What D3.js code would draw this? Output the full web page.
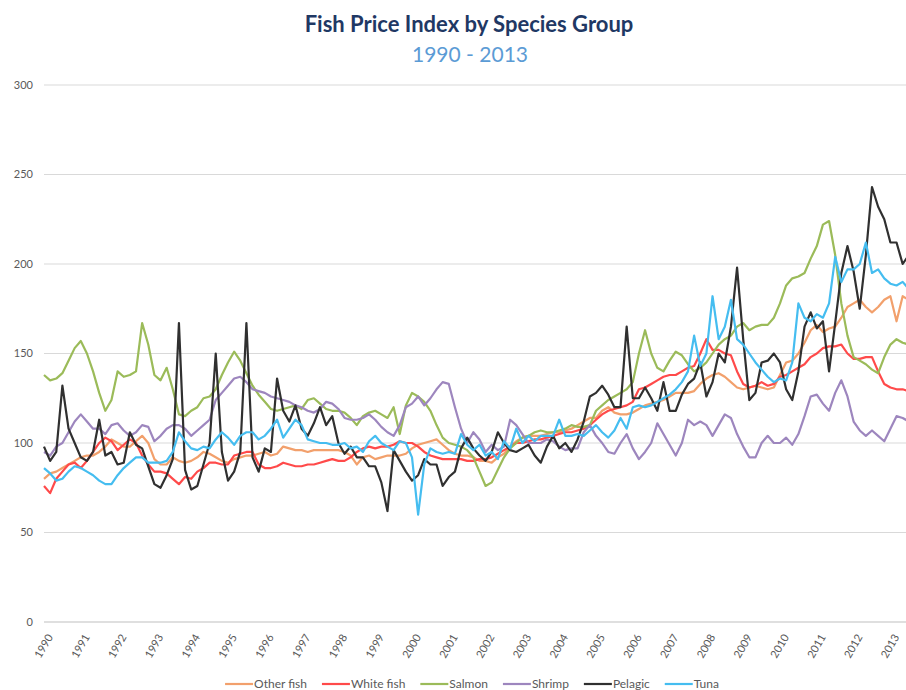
<!DOCTYPE html>
<html>
<head>
<meta charset="utf-8">
<script src="https://cdn.jsdelivr.net/npm/d3@7"></script>
<style>
  html, body { margin: 0; padding: 0; background: #fff; }
  svg { display: block; font-family: Lato, "Open Sans", sans-serif; }
</style>
</head>
<body>
<svg id="svg" width="906" height="690"></svg>
<script>
// bi-monthly readings, one row per year, Jan 1990 onward
const otherFish = [
  80, 83, 84, 86, 88, 90,
  92, 93, 93, 95, 98, 102,
  100, 98, 98, 101, 104, 100,
  91, 88, 88, 92, 90, 89,
  90, 92, 95, 94, 92, 90,
  89, 91, 92, 93, 93, 94,
  95, 93, 94, 98, 97, 96,
  96, 95, 96, 96, 96, 96,
  96, 95, 93, 88, 92, 93,
  91, 92, 93, 93, 93, 94,
  97, 99, 100, 101, 102, 99,
  96, 94, 93, 93, 92, 90,
  90, 89, 92, 94, 98, 101,
  103, 104, 104, 104, 105, 106,
  106, 107, 108, 110, 112, 114,
  114, 118, 120, 117, 116, 116,
  117, 119, 121, 122, 123, 124,
  126, 128, 128, 128, 129, 133,
  136, 138, 139, 137, 134, 131,
  130, 131, 132, 131, 130, 131,
  138, 145, 146, 150, 156, 163,
  166, 162, 164, 165, 170, 176,
  178, 180, 176, 173, 176, 180,
  182, 168, 182, 180
]
const whiteFish = [
  76, 72, 80, 84, 88, 89,
  86, 90, 95, 100, 103, 101,
  96, 99, 102, 100, 93, 88,
  84, 84, 83, 80, 77, 81,
  80, 84, 86, 89, 89, 88,
  88, 93, 94, 95, 95, 88,
  86, 86, 87, 89, 88, 87,
  87, 88, 88, 89, 90, 91,
  90, 90, 92, 95, 97, 98,
  97, 98, 98, 99, 101, 100,
  100, 98, 95, 93, 92, 91,
  91, 91, 91, 90, 90, 91,
  91, 92, 94, 96, 98, 100,
  100, 101, 102, 102, 103, 104,
  105, 106, 106, 107, 108, 110,
  113, 116, 118, 119, 120, 121,
  123, 130, 131, 133, 135, 137,
  138, 138, 140, 142, 143, 150,
  158, 152, 152, 150, 149, 140,
  133, 131, 132, 134, 132, 133,
  137, 138, 140, 142, 144, 148,
  150, 153, 154, 154, 155, 150,
  147, 147, 148, 148, 140, 133,
  131, 130, 130, 129
]
const salmon = [
  138, 135, 136, 139, 146, 153,
  157, 150, 140, 128, 118, 124,
  140, 137, 138, 140, 167, 155,
  138, 135, 142, 130, 116, 115,
  118, 120, 125, 126, 130, 138,
  145, 151, 146, 139, 132, 127,
  123, 119, 118, 119, 120, 121,
  119, 124, 125, 122, 119, 118,
  118, 117, 114, 110, 115, 117,
  118, 116, 114, 120, 105, 121,
  128, 126, 123, 118, 110, 103,
  100, 99, 98, 96, 92, 84,
  76, 78, 85, 92, 97, 100,
  103, 104, 106, 107, 106, 106,
  107, 108, 110, 109, 109, 110,
  118, 121, 124, 126, 128, 130,
  134, 150, 163, 150, 142, 140,
  146, 151, 149, 144, 140, 142,
  145, 150, 155, 158, 160, 165,
  167, 163, 165, 166, 166, 170,
  178, 188, 192, 193, 195, 203,
  210, 222, 224, 205, 178, 160,
  148, 146, 144, 141, 139, 148,
  155, 158, 156, 155
]
const shrimp = [
  95, 93, 98, 100, 106, 112,
  116, 112, 108, 108, 105, 110,
  111, 107, 104, 106, 110, 109,
  101, 104, 108, 110, 110, 108,
  104, 107, 110, 113, 124, 128,
  132, 136, 137, 134, 130, 129,
  128, 126, 125, 124, 123, 121,
  120, 118, 117, 119, 123, 122,
  119, 114, 113, 113, 114, 116,
  113, 109, 106, 104, 110, 120,
  122, 126, 121, 125, 130, 134,
  133, 120, 108, 100, 106, 102,
  95, 99, 96, 98, 113, 110,
  105, 100, 100, 100, 102, 101,
  98, 96, 97, 97, 106, 110,
  104, 100, 95, 94, 100, 105,
  97, 91, 95, 100, 111, 105,
  99, 93, 100, 113, 110, 112,
  110, 104, 110, 116, 114, 105,
  98, 92, 92, 100, 104, 100,
  100, 103, 99, 105, 115, 126,
  127, 122, 118, 128, 135, 126,
  112, 107, 104, 107, 104, 101,
  108, 115, 114, 112
]
const pelagic = [
  98, 90, 95, 132, 108, 100,
  92, 90, 95, 113, 93, 95,
  88, 89, 106, 99, 97, 87,
  77, 75, 82, 91, 167, 85,
  74, 76, 88, 100, 150, 95,
  79, 84, 95, 167, 92, 84,
  97, 95, 136, 118, 112, 121,
  108, 104, 111, 120, 110, 115,
  100, 94, 98, 92, 92, 87,
  87, 78, 62, 96, 90, 84,
  79, 82, 91, 88, 88, 76,
  81, 84, 97, 103, 97, 93,
  90, 95, 106, 100, 96, 95,
  97, 99, 93, 89, 98, 104,
  97, 100, 95, 102, 112, 126,
  128, 132, 127, 120, 120, 165,
  125, 125, 131, 125, 118, 134,
  118, 118, 127, 133, 136, 145,
  126, 134, 150, 145, 165, 198,
  158, 124, 128, 145, 146, 150,
  145, 130, 124, 140, 165, 173,
  164, 168, 140, 167, 195, 210,
  196, 175, 205, 243, 232, 225,
  212, 212, 200, 205
]
const tuna = [
  86, 83, 79, 80, 84, 87,
  86, 84, 82, 79, 77, 77,
  82, 86, 89, 92, 92, 89,
  89, 89, 90, 95, 106, 101,
  97, 96, 98, 97, 102, 106,
  103, 99, 104, 106, 106, 102,
  104, 108, 113, 103, 108, 113,
  110, 102, 101, 100, 100, 99,
  99, 100, 97, 98, 95, 101,
  104, 100, 98, 96, 101, 100,
  92, 60, 88, 97, 95, 94,
  95, 94, 105, 99, 96, 99,
  93, 95, 91, 101, 97, 108,
  100, 104, 101, 104, 104, 104,
  113, 104, 104, 105, 104, 107,
  110, 106, 103, 107, 114, 108,
  120, 121, 120, 121, 123, 125,
  127, 130, 134, 140, 160, 143,
  150, 182, 158, 165, 180, 158,
  155, 150, 145, 141, 137, 134,
  136, 135, 145, 178, 170, 168,
  172, 170, 178, 204, 190, 197,
  197, 200, 212, 195, 197, 192,
  189, 188, 190, 186
]

const seriesNames = ['Other fish', 'White fish', 'Salmon', 'Shrimp', 'Pelagic', 'Tuna']
const seriesValues = [otherFish, whiteFish, salmon, shrimp, pelagic, tuna]
const seriesColors = ['#f2a06c', '#ff4a4a', '#9bbb59', '#9d86be', '#303030', '#45bdf0']
const years = d3.range(1990, 2014)
const yTicks = [0, 50, 100, 150, 200, 250, 300]
const startYear = 1990
const stepYears = 1 / 6

const $svg = d3.select('#svg')

const scaleX = d3.scaleLinear()
  .domain([1990, 2013])
  .range([44, 44 + 23 * 36.8])
const scaleY = d3.scaleLinear()
  .domain([0, 300])
  .range([622, 85])

// title
$svg.append('text')
  .attr('x', 469).attr('y', 32)
  .attr('text-anchor', 'middle')
  .attr('font-size', 22).attr('font-weight', 'bold')
  .attr('fill', '#1f3864')
  .text('Fish Price Index by Species Group')
$svg.append('text')
  .attr('x', 470).attr('y', 62)
  .attr('text-anchor', 'middle')
  .attr('font-size', 21)
  .attr('fill', '#5b9bd5')
  .text('1990 - 2013')

// gridlines + y labels
const $grid = $svg.append('g')
$grid.selectAll('line')
  .data(yTicks)
  .join('line')
  .attr('x1', 44).attr('x2', 906)
  .attr('y1', d => scaleY(d)).attr('y2', d => scaleY(d))
  .attr('stroke', d => d === 0 ? '#bfbfbf' : '#d9d9d9')
  .attr('stroke-width', 1)
$grid.selectAll('text')
  .data(yTicks)
  .join('text')
  .attr('x', 33).attr('y', d => scaleY(d))
  .attr('dy', '0.35em')
  .attr('text-anchor', 'end')
  .attr('font-size', 11)
  .attr('fill', '#595959')
  .text(d => d)

// x labels, rotated
$svg.append('g').selectAll('text')
  .data(years)
  .join('text')
  .attr('transform', d => `translate(${scaleX(d) + 6},635) rotate(-60)`)
  .attr('text-anchor', 'end')
  .attr('dy', '0.35em')
  .attr('font-size', 11)
  .attr('fill', '#595959')
  .text(d => d)

// lines
const drawLine = d3.line()
  .x((v, i) => scaleX(startYear + i * stepYears))
  .y(v => scaleY(v))

const $lines = $svg.append('g')
seriesValues.forEach((values, index) => {
  $lines.append('path')
    .attr('d', drawLine(values))
    .attr('fill', 'none')
    .attr('stroke', seriesColors[index])
    .attr('stroke-width', 2.2)
    .attr('stroke-linejoin', 'round')
})

// legend
const $legend = $svg.append('g')
let cursor = 0
seriesNames.forEach((name, index) => {
  const $item = $legend.append('g').attr('transform', `translate(${cursor},0)`)
  $item.append('line')
    .attr('x1', 0).attr('x2', 28)
    .attr('y1', 0).attr('y2', 0)
    .attr('stroke', seriesColors[index])
    .attr('stroke-width', 2.2)
  const $t = $item.append('text')
    .attr('x', 29).attr('dy', '0.35em')
    .attr('font-size', 12)
    .attr('fill', '#595959')
    .text(name)
  cursor += 29 + $t.node().getComputedTextLength() + 15
})
const legendWidth = cursor - 15
$legend.attr('transform', `translate(${472 - legendWidth / 2},684)`)
</script>
</body>
</html>
